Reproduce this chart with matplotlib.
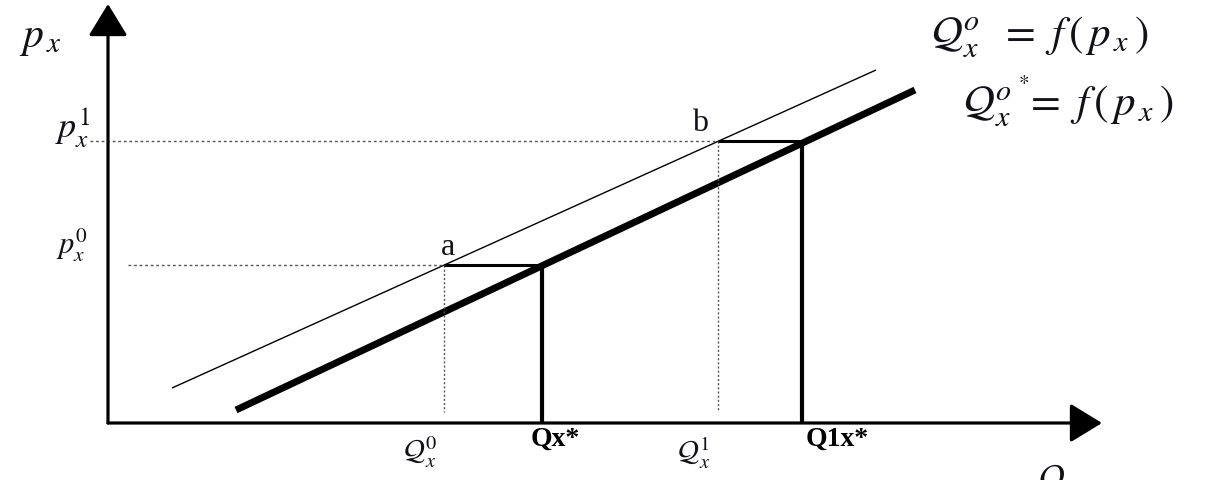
import matplotlib
matplotlib.use("Agg")
import matplotlib.pyplot as plt

plt.rcParams['mathtext.fontset'] = 'stix'
plt.rcParams['font.family'] = ['Liberation Serif', 'DejaVu Serif']

# Data (chart units: Q horizontally, p vertically, origin at axes crossing)
p_levels = [158, 282]            # p_x^0, p_x^1
q_original = [336, 610]          # Q_x^0, Q_x^1 (points a, b on original supply)
q_star = [434, 694]              # Qx*, Q1x* (on shifted supply)
supply_orig_q = [64, 768]
supply_orig_p = [35, 353]
supply_star_q = [128, 807]
supply_star_p = [13, 333]
point_labels = ['a', 'b']
q_orig_labels = [r'$\mathcal{Q}_x^0$', r'$\mathcal{Q}_x^1$']
q_star_labels = ['Qx*', 'Q1x*']
p_labels = [r'$p_x^0$', r'$p_x^1$']

fig = plt.figure(figsize=(12.3, 4.8), dpi=100)
ax = fig.add_axes([0, 0, 1, 1])
ax.set_xlim(-108, 1122)
ax.set_ylim(-57, 423)
ax.axis('off')

ink = '#111118'

# axes with arrows
ax.annotate('', xy=(0, 419), xytext=(0, 0),
            arrowprops=dict(arrowstyle='-|>,head_length=0.9,head_width=0.55',
                            lw=2.3, color='black', shrinkA=0, shrinkB=0, mutation_scale=22))
ax.annotate('', xy=(994, 0), xytext=(0, 0),
            arrowprops=dict(arrowstyle='-|>,head_length=0.9,head_width=0.55',
                            lw=2.3, color='black', shrinkA=0, shrinkB=0, mutation_scale=22))

# supply curves
ax.plot(supply_orig_q, supply_orig_p, color='black', lw=1.0, solid_capstyle='butt')
ax.plot(supply_star_q, supply_star_p, color='black', lw=5.0, solid_capstyle='butt')

dot_starts = [20, -18]
star_offsets = [13, 35]
for i in range(2):
    p = p_levels[i]
    q0 = q_original[i]
    qs = q_star[i]
    # dotted guides
    ax.plot([dot_starts[i], q0], [p, p], color='#555555', lw=1.0, ls=(0, (2, 2)))
    ax.plot([q0, q0], [p, 11], color='#555555', lw=1.0, ls=(0, (1.5, 1.5)))
    # solid horizontal and vertical
    ax.plot([q0, qs], [p, p], color='black', lw=2.2, solid_capstyle='butt')
    ax.plot([qs, qs], [p, 0], color='black', lw=3.0, solid_capstyle='butt')
    # labels
    ax.text(q0 - (3 if i == 0 else 10), p + 3, point_labels[i], fontsize=23, color=ink,
            ha='left' if i == 0 else 'right', va='bottom')
    ax.text(q0 - 24, -12, q_orig_labels[i], fontsize=21, color=ink, ha='center', va='top')
    ax.text(qs + star_offsets[i], -4, q_star_labels[i], fontsize=20, fontweight='bold',
            color='black', ha='center', va='top')

ax.text(-20, p_levels[0] + 1, p_labels[0], fontsize=22, color=ink, ha='right', va='bottom')
ax.text(-18, p_levels[1] - 9, p_labels[1], fontsize=26, color=ink, ha='right', va='bottom')
ax.text(-68, 384, r'$p_{\,x}$', fontsize=30, color=ink, ha='center', va='center')
ax.text(944, -58, r'$\mathcal{Q}$', fontsize=26, color=ink, ha='center', va='center')

ax.text(932, 386, r'$\mathcal{Q}_x^o\;\ =\ f\,(\,p_{\,x}\,)$', fontsize=31, color=ink,
        ha='center', va='center')
ax.text(960, 322, r'$\mathcal{Q}_x^{o^{\,*}}\!\!=\ f\,(\,p_{\,x}\,)$', fontsize=31, color=ink,
        ha='center', va='center')

fig.savefig('out.png', dpi=100)
